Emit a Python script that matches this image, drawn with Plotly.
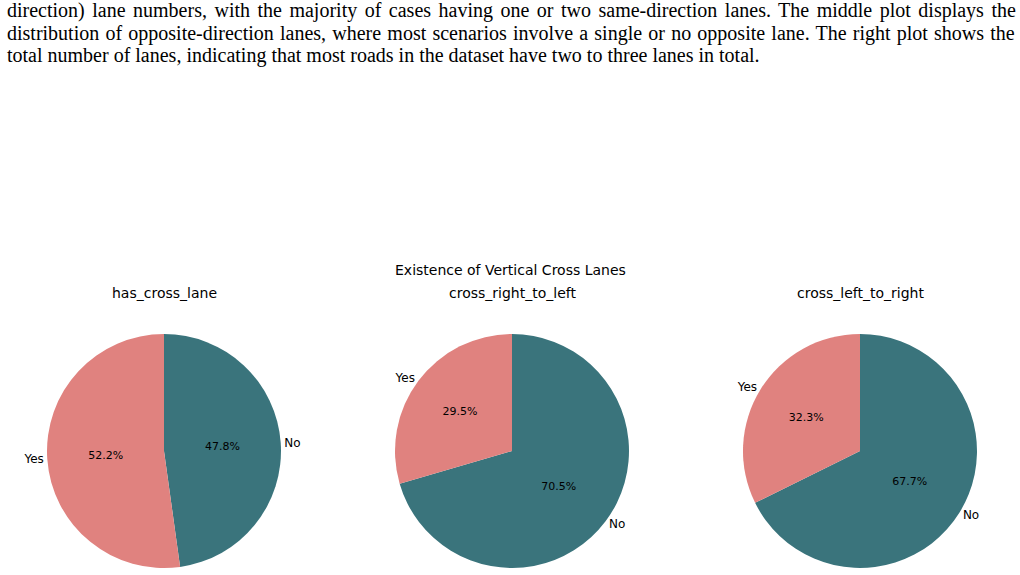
import plotly.graph_objects as go

# ---- data ----
labels = ["Yes", "No"]
has_cross_lane = [52.2, 47.8]
cross_right_to_left = [29.5, 70.5]
cross_left_to_right = [32.3, 67.7]
subplot_titles = ["has_cross_lane", "cross_right_to_left", "cross_left_to_right"]
main_title = "Existence of Vertical Cross Lanes"
colors = ["#e0827f", "#3a747c"]

paragraph_lines = [
    "direction) lane numbers, with the majority of cases having one or two same-direction lanes. The middle plot displays the",
    "distribution of opposite-direction lanes, where most scenarios involve a single or no opposite lane. The right plot shows the",
    "total number of lanes, indicating that most roads in the dataset have two to three lanes in total.",
]
line_word_spacing = [2.5, 1.2, 0]

W, H = 1020, 575
FONT = "DejaVu Sans"

series = [has_cross_lane, cross_right_to_left, cross_left_to_right]
centers_x = [164 / W, 512 / W, 860 / W]
cy = 1 - 451 / H
hr = 117 / H
hw = 150 / W

# Plotly lays the first slice clockwise from 12 o'clock; reverse order so that
# "Yes" sits counter-clockwise from the top (left side), as in the reference.
lab_r = labels[::-1]
col_r = colors[::-1]

fig = go.Figure()
for vals, cx in zip(series, centers_x):
    vals_r = vals[::-1]
    dom = dict(x=[cx - hw, cx + hw], y=[cy - hr, cy + hr])
    fig.add_trace(go.Pie(
        labels=lab_r, values=vals_r, sort=False, direction="clockwise",
        rotation=0, domain=dom, marker=dict(colors=col_r, line=dict(width=0)),
        textinfo="percent", texttemplate="%{percent:.1%}", textposition="inside",
        insidetextorientation="horizontal",
        textfont=dict(family=FONT, size=11, color="black"),
        showlegend=False, hoverinfo="label+percent",
    ))
    fig.add_trace(go.Pie(
        labels=lab_r, values=vals_r, sort=False, direction="clockwise",
        rotation=0, domain=dom,
        marker=dict(colors=["rgba(0,0,0,0)", "rgba(0,0,0,0)"], line=dict(width=0)),
        textinfo="label", textposition="outside",
        outsidetextfont=dict(family=FONT, size=12, color="black"),
        showlegend=False, hoverinfo="skip",
    ))

annotations = []
for t, cx in zip(subplot_titles, centers_x):
    annotations.append(dict(text=t, x=cx, y=1 - 293 / H, xref="paper", yref="paper",
                            showarrow=False, xanchor="center", yanchor="middle",
                            font=dict(family=FONT, size=14, color="black")))
annotations.append(dict(text=main_title, x=510 / W, y=1 - 270 / H, xref="paper", yref="paper",
                        showarrow=False, xanchor="center", yanchor="middle",
                        font=dict(family=FONT, size=14, color="black")))
line_y = [10, 33, 56]
for ln, ws, yy in zip(paragraph_lines, line_word_spacing, line_y):
    txt = f'<span style="word-spacing:{ws}px">{ln}</span>' if ws else ln
    annotations.append(dict(text=txt, x=5 / W, y=1 - yy / H, xref="paper", yref="paper",
                            showarrow=False, xanchor="left", yanchor="middle", align="left",
                            font=dict(family="Liberation Serif", size=20, color="black")))

fig.update_layout(
    width=W, height=H, margin=dict(l=0, r=0, t=0, b=0, autoexpand=False),
    paper_bgcolor="white", plot_bgcolor="white",
    annotations=annotations,
)
fig.write_html("out.html")
